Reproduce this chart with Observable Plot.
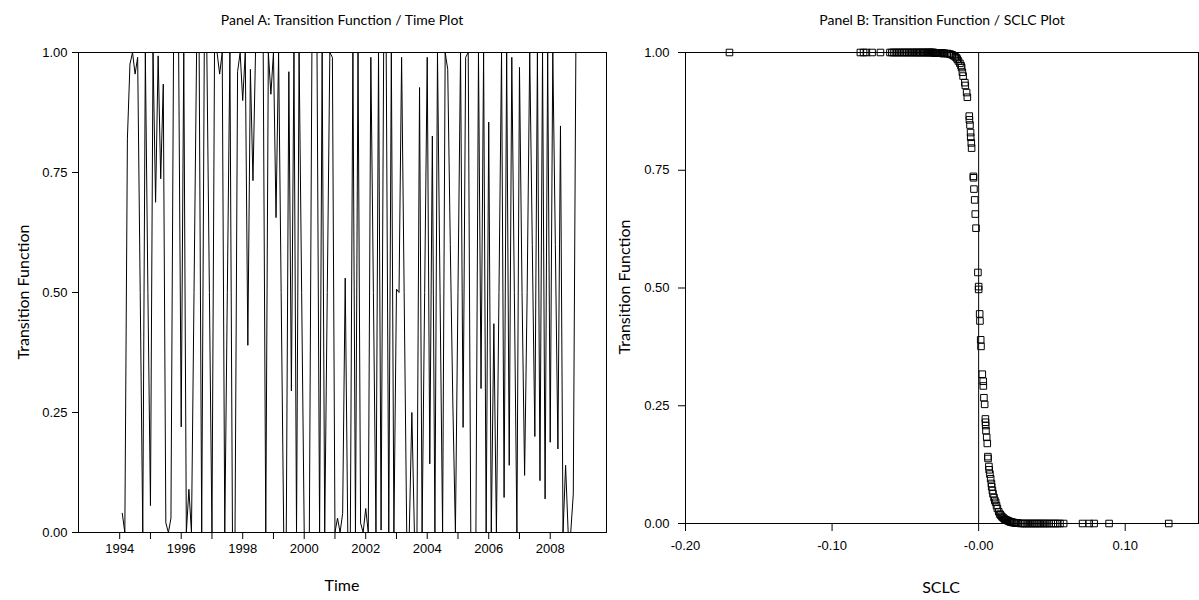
<!DOCTYPE html>
<html>
<head>
<meta charset="utf-8">
<script src="https://cdn.jsdelivr.net/npm/d3@7"></script>
<script src="https://cdn.jsdelivr.net/npm/@observablehq/plot@0.6"></script>
<style>
  html, body { margin: 0; padding: 0; background: #fff; }
  #wrap { position: relative; width: 1199px; height: 600px; overflow: hidden; background: #fff; }
  #wrap svg { position: absolute; top: 0; overflow: visible; }
  .lbl { position: absolute; font-family: Lato, "Open Sans", sans-serif; color: #000; white-space: nowrap; transform: translate(-50%, -50%); }
  .title { font-size: 14px; }
  .axt { font-size: 16px; }
  .rot { transform: translate(-50%, -50%) rotate(-90deg); }
</style>
</head>
<body>
<div id="wrap"></div>
<script>
// ---------- Panel A data: monthly transition function, starting 1994 ----------
const startYear = 1994;
const transitionSeries = [
  0.04, 0.0, 0.82, 0.976, 1.0, 0.955, 0.99, 0.5, 0.0, 1.0,
  0.5, 0.056, 1.0, 0.688, 0.993, 0.737, 0.934, 0.02, 0.0, 0.03,
  1.0, 1.0, 1.0, 0.22, 1.0, 0.0, 0.09, 0.0, 0.5, 1.0,
  1.0, 0.0, 1.0, 1.0, 0.5, 0.0, 1.0, 1.0, 0.955, 1.0,
  0.0, 0.5, 1.0, 0.0, 0.0, 0.96, 1.0, 0.90, 1.0, 0.39,
  0.965, 0.733, 1.0, 1.0, 1.0, 1.0, 0.0, 1.0, 0.913, 1.0,
  0.656, 1.0, 0.5, 0.0, 0.0, 0.96, 0.295, 1.0, 0.0, 1.0,
  0.5, 0.0, 0.0, 0.0, 1.0, 1.0, 1.0, 0.0, 1.0, 0.0,
  0.5, 1.0, 0.99, 0.0, 0.03, 0.0, 0.04, 0.53, 0.0, 0.0,
  1.0, 0.0, 1.0, 0.02, 0.0, 0.05, 0.0, 0.99, 0.5, 0.0,
  1.0, 0.005, 1.0, 1.0, 0.0, 1.0, 0.0, 0.507, 0.5, 0.99,
  0.5, 0.0, 0.0, 0.25, 0.0, 0.0, 0.927, 0.0, 0.5, 0.99,
  0.143, 0.826, 0.0, 1.0, 0.5, 0.0, 1.0, 0.965, 0.6, 0.268,
  0.0, 0.5, 1.0, 0.219, 0.99, 1.0, 0.0, 0.0, 0.0, 1.0,
  0.30, 1.0, 0.0, 0.855, 0.0, 0.435, 0.0, 0.5, 1.0, 0.073,
  1.0, 0.14, 0.99, 0.5, 0.0, 0.969, 0.5, 0.119, 0.5, 1.0,
  0.6, 0.20, 1.0, 0.108, 1.0, 0.07, 1.0, 0.188, 1.0, 0.6,
  0.174, 0.847, 0.0, 0.14, 0.0, 0.0, 0.08, 1.0, 1.0
];
const yearTicks = [1994,1995,1996,1997,1998,1999,2000,2001,2002,2003,2004,2005,2006,2007,2008];
const yearTickLabels = ["1994","","1996","","1998","","2000","","2002","","2004","","2006","","2008"];
const tfTicks = [0, 0.25, 0.5, 0.75, 1];
const tfTickLabels = ["0.00","0.25","0.50","0.75","1.00"];

// ---------- Panel B data: SCLC vs transition function ----------
const sclcValues = [
  -0.170, -0.0807, -0.0785, -0.0766, -0.0727, -0.0670, -0.0605, -0.0592, -0.0580, -0.0568,
  -0.0556, -0.0545, -0.0533, -0.0521, -0.0510, -0.0500, -0.0489, -0.0478, -0.0467, -0.0457,
  -0.0447, -0.0437, -0.0427, -0.0418, -0.0409, -0.0400, -0.0391, -0.0382, -0.0373, -0.0365,
  -0.0357, -0.0349, -0.0341, -0.0334, -0.0327, -0.0320, -0.0313, -0.0306, -0.0299, -0.0292,
  -0.0286, -0.0280, -0.0274, -0.0268, -0.0262, -0.0256, -0.0250, -0.0244, -0.0238, -0.0232,
  -0.0215, -0.0200, -0.0190, -0.0180, -0.0169, -0.0160, -0.0152, -0.0146, -0.0138, -0.0128,
  -0.0120, -0.0116, -0.0111, -0.0106, -0.0094, -0.0091, -0.0082, -0.0077, -0.0064, -0.0063,
  -0.0059, -0.0055, -0.0054, -0.0050, -0.0048, -0.0036, -0.0035, -0.0032, -0.0027, -0.0023,
  -0.0018, -0.0005,
  0.0000, 0.0000, 0.0007, 0.0009, 0.0014, 0.0016, 0.0025, 0.0031, 0.0032, 0.0036,
  0.0041, 0.0046, 0.0047, 0.0048, 0.0050, 0.0055, 0.0059, 0.0063, 0.0064, 0.0070,
  0.0072, 0.0077, 0.0082, 0.0087, 0.0089, 0.0094, 0.0098, 0.0105, 0.0110, 0.0116,
  0.0122, 0.0128, 0.0137, 0.0145, 0.0150, 0.0157, 0.0164, 0.0171, 0.0178, 0.0185,
  0.0191, 0.0198, 0.0205, 0.0212, 0.0219, 0.0226, 0.0233, 0.0240, 0.0250, 0.0260,
  0.0270, 0.0287, 0.0300, 0.0312, 0.0325, 0.0338, 0.0350, 0.0362, 0.0375, 0.0388,
  0.0400, 0.0412, 0.0425, 0.0440, 0.0452, 0.0465, 0.0480, 0.0495, 0.0510, 0.0525,
  0.0540, 0.0555, 0.0580, 0.0709, 0.0754, 0.0788, 0.0890, 0.1297
];
const sclcTransition = [
  1, 1, 1, 1, 1, 1, 1, 1, 1, 1,
  1, 1, 1, 1, 1, 1, 1, 1, 1, 1,
  1, 1, 1, 1, 1, 1, 1, 1, 1, 1,
  1, 1, 1, 1, 1, 1, 1, 1, 0.999, 0.999,
  0.999, 0.999, 0.999, 0.999, 0.999, 0.999, 0.999, 0.998, 0.998, 0.998,
  0.998, 0.997, 0.996, 0.995, 0.993, 0.991, 0.989, 0.986, 0.982, 0.977,
  0.972, 0.968, 0.958, 0.950, 0.936, 0.930, 0.915, 0.905, 0.865, 0.857,
  0.846, 0.830, 0.820, 0.808, 0.797, 0.737, 0.734, 0.710, 0.687, 0.657,
  0.627, 0.533,
  0.503, 0.497, 0.445, 0.430, 0.390, 0.376, 0.317, 0.302, 0.292, 0.267,
  0.253, 0.222, 0.215, 0.208, 0.197, 0.183, 0.170, 0.142, 0.138, 0.121,
  0.114, 0.105, 0.095, 0.085, 0.078, 0.070, 0.063, 0.055, 0.049, 0.045,
  0.038, 0.032, 0.025, 0.020, 0.018, 0.015, 0.013, 0.011, 0.009, 0.008,
  0.007, 0.006, 0.005, 0.004, 0.003, 0.003, 0.002, 0.002, 0.001, 0.001,
  0.001, 0, 0, 0, 0, 0, 0, 0, 0, 0,
  0, 0, 0, 0, 0, 0, 0, 0, 0, 0,
  0, 0, 0, 0, 0, 0, 0, 0
];
const sclcTicks = [-0.2, -0.1, 0, 0.1];
const sclcTickLabels = ["-0.20", "-0.10", "-0.00", "0.10"];

// ---------- build ----------
const wrap = document.getElementById("wrap");
const seriesA = transitionSeries.map((v, i) => ({t: startYear + (i + 1) / 12, v}));
const pointsB = sclcValues.map((s, i) => ({s, g: sclcTransition[i]}));
const tickFont = {fontFamily: "'Liberation Sans', Arial, sans-serif", fontSize: "13px", color: "#000", background: "transparent", overflow: "visible"};

const plotA = Plot.plot({
  width: 620, height: 600,
  marginLeft: 78, marginRight: 14, marginTop: 52, marginBottom: 68,
  x: {domain: [1992.66, 2009.83]},
  y: {domain: [0, 1]},
  style: tickFont,
  marks: [
    Plot.line(seriesA, {x: "t", y: "v", stroke: "#000", strokeWidth: 1}),
    Plot.frame({stroke: "#000", strokeWidth: 1}),
    Plot.axisY({ticks: tfTicks, tickFormat: d => tfTickLabels[tfTicks.indexOf(d)], tickSize: 6, tickPadding: 5, label: null, fontSize: 13}),
    Plot.axisX({ticks: yearTicks, tickFormat: d => yearTickLabels[yearTicks.indexOf(d)], tickSize: 7, tickPadding: 4, label: null, fontSize: 13})
  ]
});
plotA.style.left = "0px";
wrap.appendChild(plotA);

const plotB = Plot.plot({
  width: 599, height: 600,
  marginLeft: 85, marginRight: 1, marginTop: 52, marginBottom: 77,
  x: {domain: [-0.2, 0.15]},
  y: {domain: [0, 1]},
  style: tickFont,
  marks: [
    Plot.ruleX([0], {stroke: "#000", strokeWidth: 1}),
    Plot.dot(pointsB, {x: "s", y: "g", symbol: "square", r: 3.7, stroke: "#000", strokeWidth: 1, fill: "none"}),
    Plot.frame({stroke: "#000", strokeWidth: 1}),
    Plot.axisY({ticks: tfTicks, tickFormat: d => tfTickLabels[tfTicks.indexOf(d)], tickSize: 7, tickPadding: 9, label: null, fontSize: 13}),
    Plot.axisX({ticks: sclcTicks, tickFormat: d => sclcTickLabels[sclcTicks.indexOf(d)], tickSize: 8, tickPadding: 9, label: null, fontSize: 13})
  ]
});
plotB.style.left = "600px";
wrap.appendChild(plotB);

function addLabel(text, x, y, cls) {
  const d = document.createElement("div");
  d.className = "lbl " + cls;
  d.textContent = text;
  d.style.left = x + "px";
  d.style.top = y + "px";
  wrap.appendChild(d);
}
addLabel("Panel A: Transition Function / Time Plot", 342, 19, "title");
addLabel("Panel B: Transition Function / SCLC Plot", 942, 19, "title");
addLabel("Time", 342, 584, "axt");
addLabel("SCLC", 941, 586, "axt");
addLabel("Transition Function", 22, 292, "axt rot");
addLabel("Transition Function", 623, 287, "axt rot");
</script>
</body>
</html>
